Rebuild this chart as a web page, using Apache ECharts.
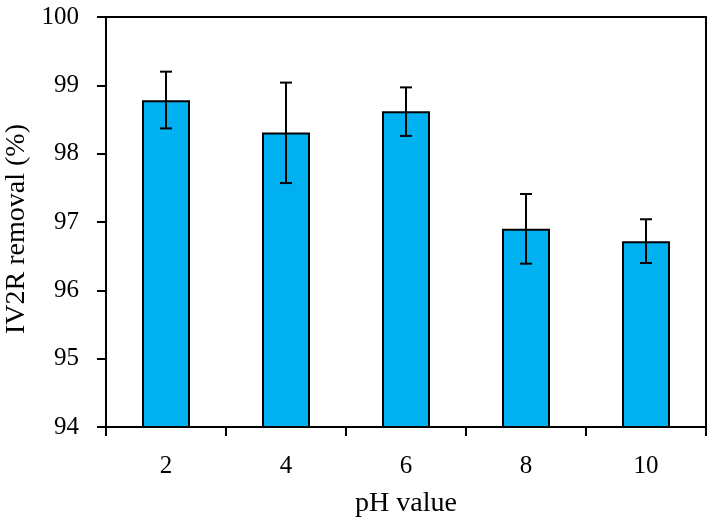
<!DOCTYPE html>
<html>
<head>
<meta charset="utf-8">
<script src="https://cdn.jsdelivr.net/npm/echarts@6/dist/echarts.min.js"></script>
<style>
  html, body { margin: 0; padding: 0; background: #fff; }
  #chart { width: 714px; height: 518px; }
</style>
</head>
<body>
<div id="chart"></div>
<script>
// pH values and IV2R removal (%), with error bar ends
var phValues = ['2', '4', '6', '8', '10'];
var removal = [98.78, 98.31, 98.62, 96.90, 96.72];
var errLow  = [98.37, 97.57, 98.26, 96.39, 96.40];
var errHigh = [99.20, 99.04, 98.97, 97.41, 97.04];

var font = 'Liberation Serif';
var chart = echarts.init(document.getElementById('chart'));

var errData = phValues.map(function (p, i) {
  return [i, errLow[i], errHigh[i]];
});

var option = {
  animation: false,
  grid: {
    left: 106, right: 8, top: 17, bottom: 91,
    outerBoundsMode: 'none',
    containLabel: false,
    show: true, borderColor: '#000', borderWidth: 2
  },
  xAxis: {
    type: 'category',
    data: phValues,
    name: 'pH value',
    nameLocation: 'middle',
    nameGap: 63,
    nameTextStyle: { fontFamily: font, fontSize: 28, color: '#000' },
    axisLine: { lineStyle: { color: '#000', width: 2 } },
    axisTick: { show: true, interval: 0, length: 9, lineStyle: { color: '#000', width: 2 } },
    axisLabel: { fontFamily: font, fontSize: 25, color: '#000', margin: 27 }
  },
  yAxis: {
    type: 'value',
    min: 94, max: 100, interval: 1,
    name: 'IV2R removal (%)',
    nameLocation: 'middle',
    nameGap: 62,
    nameTextStyle: { fontFamily: font, fontSize: 28, color: '#000', padding: [0, 14, 0, 0] },
    splitLine: { show: false },
    axisLine: { show: true, lineStyle: { color: '#000', width: 2 } },
    axisTick: { show: true, length: 9, lineStyle: { color: '#000', width: 2 } },
    axisLabel: { fontFamily: font, fontSize: 25, color: '#000', margin: 27 }
  },
  series: [
    {
      type: 'bar',
      data: removal,
      barWidth: '40%',
      itemStyle: { color: '#00B0F0', borderColor: '#000', borderWidth: 2 }
    },
    {
      type: 'custom',
      data: errData,
      z: 10,
      renderItem: function (params, api) {
        var x = api.value(0);
        var lo = api.coord([x, api.value(1)]);
        var hi = api.coord([x, api.value(2)]);
        var w = 6;
        var st = { stroke: '#000', lineWidth: 2 };
        return {
          type: 'group',
          children: [
            { type: 'line', shape: { x1: hi[0], y1: hi[1], x2: lo[0], y2: lo[1] }, style: st },
            { type: 'line', shape: { x1: hi[0] - w, y1: hi[1], x2: hi[0] + w, y2: hi[1] }, style: st },
            { type: 'line', shape: { x1: lo[0] - w, y1: lo[1], x2: lo[0] + w, y2: lo[1] }, style: st }
          ]
        };
      }
    }
  ]
};

chart.setOption(option);
</script>
</body>
</html>
